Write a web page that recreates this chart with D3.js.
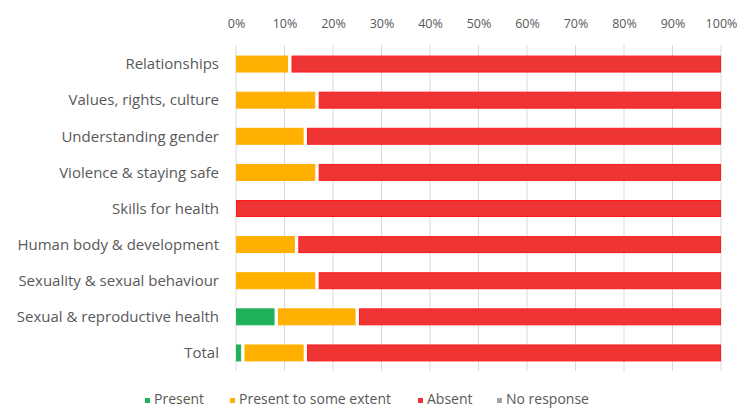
<!DOCTYPE html>
<html><head><meta charset="utf-8">
<script src="https://cdn.jsdelivr.net/npm/d3@7"></script>
<style>body{margin:0;background:#fff}svg{display:block}</style>
</head><body>
<script>
const categories = ["Relationships","Values, rights, culture","Understanding gender","Violence & staying safe","Skills for health","Human body & development","Sexuality & sexual behaviour","Sexual & reproductive health","Total"];
const seriesNames = ["Present","Present to some extent","Absent","No response"];
const present = [0,0,0,0,0,0,0,8.3,1.4];
const someExtent = [11.1,16.7,14.3,16.7,0,12.5,16.7,16.7,12.9];
const absent = [88.9,83.3,85.7,83.3,100,87.5,83.3,75,85.7];
const noResponse = [0,0,0,0,0,0,0,0,0];
const tickValues = [0,10,20,30,40,50,60,70,80,90,100];
const colors = ["#1fb25a","#ffb000","#ef3434","#a5a5a5"];
const strokes = ["#1fb25a","#ffb000","#ff1a1a","#a5a5a5"];
const FONT = "'Open Sans', 'Noto Sans', sans-serif";

const W=742,H=409;
const svg=d3.select("body").append("svg").attr("width",W).attr("height",H);
const x=d3.scaleLinear().domain([0,100]).range([236,721]);
const y=d3.scaleBand().domain(categories).range([46,371]).paddingInner(0.53).paddingOuter(0.265);

// gridlines
svg.append("g").selectAll("line").data(tickValues).join("line")
 .attr("x1",d=>x(d)).attr("x2",d=>x(d)).attr("y1",45).attr("y2",371)
 .attr("stroke","#d9d9d9").attr("stroke-width",1);

// top axis labels
const ax=svg.append("g").attr("transform","translate(0,28)")
 .call(d3.axisTop(x).tickValues(tickValues).tickFormat(d=>d+"%").tickSize(0).tickPadding(0));
ax.select(".domain").remove();
ax.selectAll("text").attr("fill","#595959").style("font-family",FONT).style("font-size","12.5px");

// stacked data
const vals=[present,someExtent,absent,noResponse];
const rows=categories.map((c,i)=>{const o={cat:c};seriesNames.forEach((s,k)=>o[s]=vals[k][i]);return o;});
const stack=d3.stack().keys(seriesNames)(rows);
const gap=1.7;
stack.forEach((layer,k)=>{
  svg.append("g").selectAll("rect").data(layer.filter(d=>d[1]-d[0]>0)).join("rect")
   .attr("x",d=>x(d[0])+(d[0]>0?gap:0)+0.5)
   .attr("width",d=>x(d[1])-x(d[0])-(d[0]>0?gap:0)-(d[1]<100?gap:0)-1)
   .attr("y",d=>y(d.data.cat)+0.5)
   .attr("height",y.bandwidth()-1)
   .attr("fill",colors[k]).attr("stroke",strokes[k]).attr("stroke-width",1);
});

// category labels
svg.append("g").selectAll("text").data(categories).join("text")
 .attr("x",219).attr("y",d=>y(d)+y.bandwidth()/2).attr("dy","0.35em")
 .attr("text-anchor","end").attr("fill","#595959")
 .style("font-family",FONT).style("font-size","15px")
 .text(d=>d);

// legend
const legX=[145,230,418,497];
const lg=svg.append("g").selectAll("g").data(seriesNames).join("g")
 .attr("transform",(d,i)=>`translate(${legX[i]},0)`);
lg.append("rect").attr("x",0).attr("y",398).attr("width",5).attr("height",5).attr("fill",(d,i)=>colors[i]);
lg.append("text").attr("x",9).attr("y",404).attr("fill","#595959")
 .style("font-family",FONT).style("font-size","14px").text(d=>d);
</script>
</body></html>
